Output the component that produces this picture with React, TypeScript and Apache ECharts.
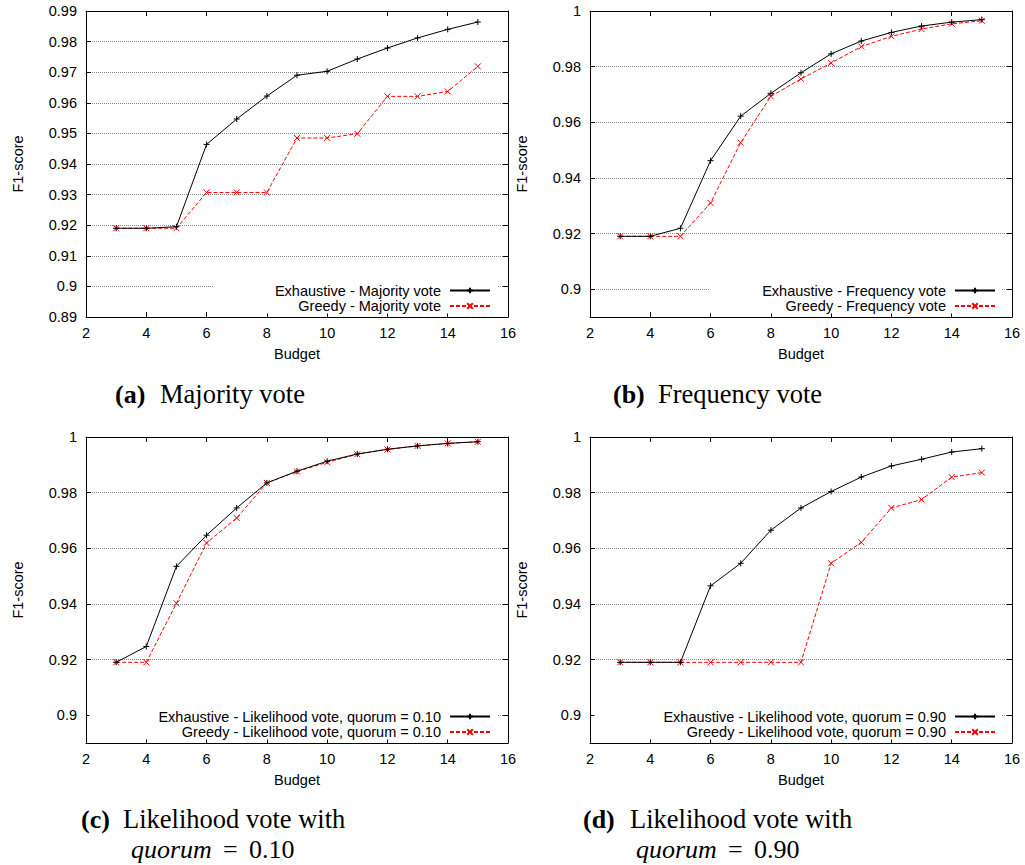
import React, { useEffect, useRef } from 'react';
import * as echarts from 'echarts';

const budget = [3, 4, 5, 6, 7, 8, 9, 10, 11, 12, 13, 14, 15];

const majorityExhaustive = [0.919, 0.919, 0.9195, 0.9464, 0.9547, 0.9622, 0.969, 0.9703, 0.9743, 0.9779, 0.9812, 0.984, 0.9864];
const majorityGreedy = [0.919, 0.919, 0.919, 0.9307, 0.9307, 0.9307, 0.9485, 0.9485, 0.9499, 0.9621, 0.9621, 0.9637, 0.9719];
const frequencyExhaustive = [0.919, 0.919, 0.9219, 0.9462, 0.9622, 0.9704, 0.9778, 0.9846, 0.9892, 0.9923, 0.9946, 0.996, 0.9969];
const frequencyGreedy = [0.919, 0.919, 0.919, 0.931, 0.9527, 0.9693, 0.9756, 0.9813, 0.9872, 0.9909, 0.9935, 0.9954, 0.9965];
const likelihood10Exhaustive = [0.919, 0.9247, 0.9535, 0.9647, 0.9745, 0.9835, 0.9877, 0.9913, 0.9939, 0.9956, 0.9968, 0.9977, 0.9983];
const likelihood10Greedy = [0.919, 0.919, 0.9402, 0.9619, 0.9709, 0.9835, 0.9876, 0.9909, 0.9938, 0.9955, 0.9968, 0.9977, 0.9983];
const likelihood90Exhaustive = [0.919, 0.919, 0.919, 0.9465, 0.9546, 0.9665, 0.9745, 0.9804, 0.9856, 0.9896, 0.992, 0.9946, 0.9958];
const likelihood90Greedy = [0.919, 0.919, 0.919, 0.919, 0.919, 0.919, 0.919, 0.9546, 0.9621, 0.9745, 0.9775, 0.9856, 0.9872];

const xMin = 2;
const xMax = 16;
const xInterval = 2;
const yTicksMajority = [0.89, 0.9, 0.91, 0.92, 0.93, 0.94, 0.95, 0.96, 0.97, 0.98, 0.99];
const yTicksOther = [0.9, 0.92, 0.94, 0.96, 0.98, 1];

const seriesNames = [
  ['Exhaustive - Majority vote', 'Greedy - Majority vote'],
  ['Exhaustive - Frequency vote', 'Greedy - Frequency vote'],
  ['Exhaustive - Likelihood vote, quorum = 0.10', 'Greedy - Likelihood vote, quorum = 0.10'],
  ['Exhaustive - Likelihood vote, quorum = 0.90', 'Greedy - Likelihood vote, quorum = 0.90'],
];
const captionLetters = ['(a)', '(b)', '(c)', '(d)'];
const captionTitles = ['Majority vote', 'Frequency vote', 'Likelihood vote with', 'Likelihood vote with'];
const quorumValues = ['', '', '0.10', '0.90'];

const SANS = '"Liberation Sans", Arial, sans-serif';
const SERIF = '"Liberation Serif", "Times New Roman", serif';
const FS = 14.5;

const PLUS = 'path://M0,5L10,5M5,0L5,10';
const CROSS = 'path://M0,0L10,10M10,0L0,10';

function buildOption() {
  const panels = [
    { left: 86, top: 11, yMin: 0.89, yMax: 0.99, yTicks: yTicksMajority, data: [majorityExhaustive, majorityGreedy], lRight: 528, lTop: 280, lPadLeft: 61, capX: 115, capTitleX: 160, capY: 394 },
    { left: 590, top: 11, yMin: 0.89, yMax: 1, yTicks: yTicksOther, data: [frequencyExhaustive, frequencyGreedy], lRight: 23, lTop: 280, lPadLeft: 52, capX: 613, capTitleX: 658, capY: 394 },
    { left: 86, top: 437, yMin: 0.89, yMax: 1, yTicks: yTicksOther, data: [likelihood10Exhaustive, likelihood10Greedy], lRight: 528, lTop: 706, lPadLeft: 69, capX: 81, capTitleX: 123, capY: 819, qX: 131 },
    { left: 590, top: 437, yMin: 0.89, yMax: 1, yTicks: yTicksOther, data: [likelihood90Exhaustive, likelihood90Greedy], lRight: 23, lTop: 706, lPadLeft: 69, capX: 583, capTitleX: 630, capY: 819, qX: 636 },
  ];
  const W = 422;
  const H = 306;

  const grid: any[] = [];
  const xAxis: any[] = [];
  const yAxis: any[] = [];
  const series: any[] = [];
  const legend: any[] = [];
  const graphic: any[] = [];

  const axisLine = { show: true, onZero: false, lineStyle: { color: '#000', width: 1 } };
  const tick = { show: true, inside: true, length: 5, lineStyle: { color: '#000', width: 1 } };

  panels.forEach((p, i) => {
    grid.push({ left: p.left, top: p.top, width: W, height: H, containLabel: false });
    xAxis.push({
      type: 'value', gridIndex: i, position: 'bottom', min: xMin, max: xMax, interval: xInterval,
      name: 'Budget', nameLocation: 'middle', nameGap: 29,
      nameTextStyle: { fontFamily: SANS, fontSize: FS, color: '#000' },
      axisLine, axisTick: tick,
      axisLabel: { fontFamily: SANS, fontSize: FS, color: '#000', margin: 8 },
      splitLine: { show: false },
    });
    xAxis.push({
      type: 'value', gridIndex: i, position: 'top', min: xMin, max: xMax, interval: xInterval,
      axisLine, axisTick: tick, axisLabel: { show: false }, splitLine: { show: false },
    });
    yAxis.push({
      type: 'value', gridIndex: i, position: 'left', min: p.yMin, max: p.yMax,
      name: 'F1-score', nameLocation: 'middle', nameGap: 61,
      nameTextStyle: { fontFamily: SANS, fontSize: FS, color: '#000' },
      axisLine,
      axisTick: { ...tick, customValues: p.yTicks },
      axisLabel: { fontFamily: SANS, fontSize: FS, color: '#000', margin: 9, customValues: p.yTicks },
      splitLine: { show: true, lineStyle: { color: '#888', width: 1, type: [1, 1] } },
    });
    yAxis.push({
      type: 'value', gridIndex: i, position: 'right', min: p.yMin, max: p.yMax,
      axisLine,
      axisTick: { ...tick, customValues: p.yTicks },
      axisLabel: { show: false, customValues: p.yTicks },
      splitLine: { show: false },
    });

    const [ex, gr] = p.data;
    series.push({
      name: seriesNames[i][0], type: 'line', xAxisIndex: i * 2, yAxisIndex: i * 2,
      data: budget.map((b, k) => [b, ex[k]]),
      symbol: PLUS, symbolSize: 6, showSymbol: true,
      lineStyle: { color: '#000', width: 1, type: 'solid' },
      itemStyle: { color: '#000', borderColor: '#000', borderWidth: 1 },
      z: 3,
    });
    series.push({
      name: seriesNames[i][1], type: 'line', xAxisIndex: i * 2, yAxisIndex: i * 2,
      data: budget.map((b, k) => [b, gr[k]]),
      symbol: CROSS, symbolSize: 6, showSymbol: true,
      lineStyle: { color: '#ff0000', width: 1, type: [4, 2] },
      itemStyle: { color: '#ff0000', borderColor: '#ff0000', borderWidth: 1 },
      z: 2,
    });

    legend.push({
      data: seriesNames[i], orient: 'vertical', align: 'right',
      right: p.lRight, top: p.lTop,
      padding: [3, 6, 0, p.lPadLeft], itemGap: 0.5,
      itemWidth: 40, itemHeight: 7,
      backgroundColor: '#fff', selectedMode: false,
      formatter: (name: string) => name + '\u00a0',
      textStyle: { fontFamily: SANS, fontSize: FS, color: '#000' },
    });

    graphic.push({
      type: 'text', x: p.capX, y: p.capY,
      style: { text: captionLetters[i], font: `bold 26px ${SERIF}`, fill: '#000', textAlign: 'left', textVerticalAlign: 'middle' },
    });
    graphic.push({
      type: 'text', x: p.capTitleX, y: p.capY,
      style: { text: captionTitles[i], font: `26.5px ${SERIF}`, fill: '#000', textAlign: 'left', textVerticalAlign: 'middle' },
    });
    if (quorumValues[i]) {
      const qx = (p as any).qX;
      graphic.push({
        type: 'text', x: qx, y: p.capY + 30,
        style: { text: 'quorum', font: `italic 26px ${SERIF}`, fill: '#000', textAlign: 'left', textVerticalAlign: 'middle' },
      });
      graphic.push({
        type: 'text', x: qx + 92, y: p.capY + 30,
        style: { text: '=', font: `26px ${SERIF}`, fill: '#000', textAlign: 'left', textVerticalAlign: 'middle' },
      });
      graphic.push({
        type: 'text', x: qx + 118, y: p.capY + 30,
        style: { text: quorumValues[i], font: `26px ${SERIF}`, fill: '#000', textAlign: 'left', textVerticalAlign: 'middle' },
      });
    }
  });

  return {
    animation: false,
    backgroundColor: '#fff',
    grid, xAxis, yAxis, series, legend, graphic,
  };
}

export default function App() {
  const ref = useRef<HTMLDivElement>(null);
  useEffect(() => {
    const chart = echarts.init(ref.current!, null, { renderer: 'svg' });
    chart.setOption(buildOption() as any);
    return () => chart.dispose();
  }, []);
  return (
    <div
      ref={ref}
      style={{ position: 'absolute', left: 0, top: 0, width: 1025, height: 865, background: '#fff' }}
    />
  );
}
